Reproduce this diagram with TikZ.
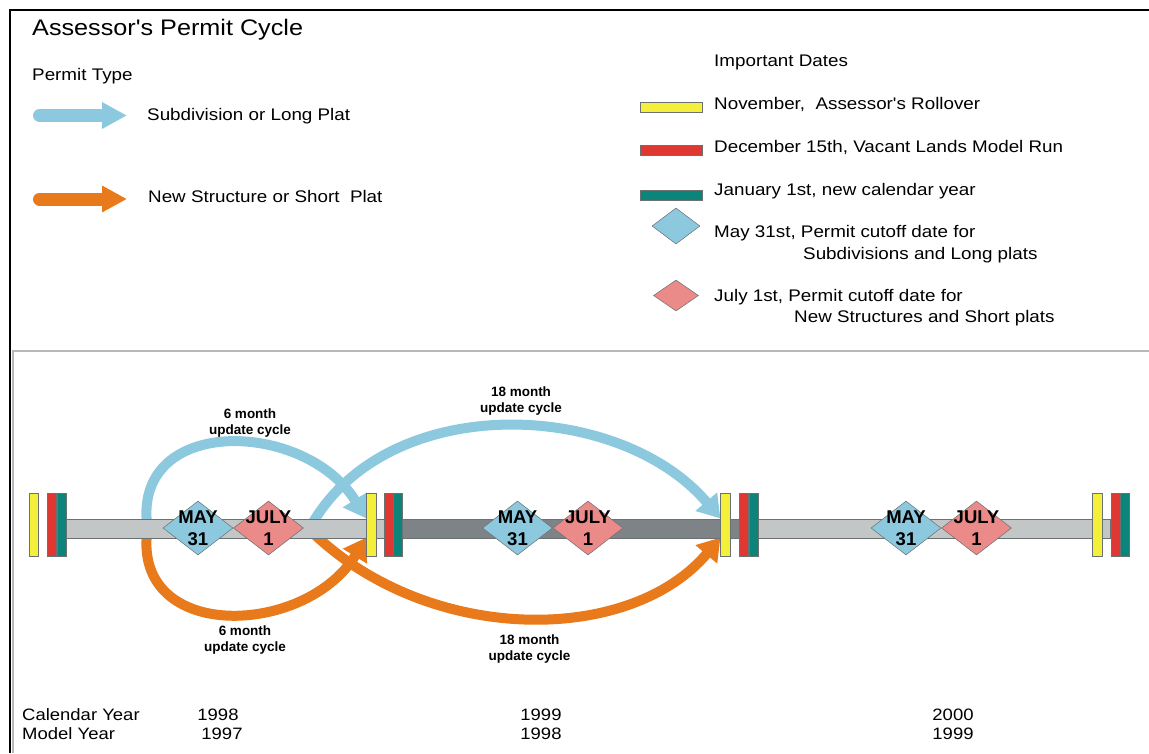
\documentclass[tikz,border=0pt]{standalone}
\usepackage{fontspec}
\setmainfont{Liberation Sans}
\newfontfamily\widesans{Liberation Sans}[FakeStretch=1.12]
\usepackage{xcolor}
\usepackage{tikz}
\usetikzlibrary{positioning, shapes.geometric, arrows.meta, backgrounds}

\definecolor{subblue}{HTML}{8CC8DE}
\definecolor{strorange}{HTML}{E97A1C}
\definecolor{rollyellow}{HTML}{F3EF3A}
\definecolor{modelred}{HTML}{DF3832}
\definecolor{newteal}{HTML}{0B857C}
\definecolor{julypink}{HTML}{EA8A89}
\definecolor{barlight}{HTML}{C2C6C6}
\definecolor{bardark}{HTML}{7D8386}
\definecolor{baredge}{HTML}{6B7070}

\begin{document}
\begin{tikzpicture}[x=1pt, y=-1pt,
    headtxt/.style={font=\widesans\fontsize{22.5}{27}\selectfont, anchor=base west, inner sep=0pt},
    legtxt/.style={font=\widesans\fontsize{16.8}{20}\selectfont, anchor=base west, inner sep=0pt},
    yeartxt/.style={font=\widesans\fontsize{16.5}{20}\selectfont, anchor=base, inner sep=0pt},
    cyctxt/.style={font=\bfseries\fontsize{13.5}{16.5}\selectfont, align=center, inner sep=0pt},
    daytxt/.style={font=\bfseries\fontsize{18.5}{21.5}\selectfont, align=center, inner sep=0pt},
    swatch/.style={draw=baredge, line width=0.6pt, minimum width=62pt, minimum height=10pt, inner sep=0pt},
    yelbar/.style={draw=baredge, line width=0.6pt, fill=rollyellow, minimum width=9.5pt, minimum height=63pt, inner sep=0pt},
    redbar/.style={yelbar, fill=modelred, minimum width=9pt},
    tealbar/.style={yelbar, fill=newteal, minimum width=9pt},
    maydia/.style={diamond, draw=baredge, line width=0.5pt, fill=subblue, minimum width=70pt, minimum height=54pt, inner sep=0pt},
    julydia/.style={maydia, fill=julypink},
    cycarrow/.style={line width=10pt, -{Triangle[width=27pt, length=22pt]}},
    legarrow/.style={line width=13pt, line cap=round, -{Triangle[width=25pt, length=25pt]}}]
    \useasboundingbox (0,0) rectangle (1149,753);

    % Frame
    \draw[line width=2.5pt] (9,10) -- (1149,10);
    \draw[line width=2.5pt] (10,9) -- (10,753);
    \draw[gray!55, line width=2pt] (1149,351) -- (12.5,351) -- (12.5,753);

    % Permit type legend
    \node[headtxt] (heading) at (32,35) {Assessor's Permit Cycle};
    \node[legtxt] (ptype) at (32,80.7) {Permit Type};
    \coordinate (subtail) at (39.5,115.5);
    \coordinate (subtip) at (127,115.5);
    \coordinate (strtail) at (39.5,199);
    \coordinate (strtip) at (127,199);
    \draw[legarrow, subblue] (subtail) -- (subtip);
    \draw[legarrow, strorange] (strtail) -- (strtip);
    \node[legtxt] (subtxt) at (147,120) {Subdivision or Long Plat};
    \node[legtxt] (strtxt) at (148,202.7) {New Structure or Short\ \ Plat};

    % Important dates legend
    \node[legtxt] (impdates) at (714,66.7) {Important Dates};
    \node[swatch, fill=rollyellow] (swyel) at (671,107) {};
    \node[swatch, fill=modelred] (swred) at (671,150.5) {};
    \node[swatch, fill=newteal] (swteal) at (671,195) {};
    \node[legtxt] (novtxt) at (714,109.3) {November,\ \ Assessor's Rollover};
    \node[legtxt] (dectxt) at (714,152.3) {December 15th, Vacant Lands Model Run};
    \node[legtxt] (jantxt) at (714,195) {January 1st, new calendar year};
    \node[maydia, minimum width=48pt, minimum height=36pt] (legmay) at (676,226) {};
    \node[julydia, minimum width=45pt, minimum height=31pt] (legjuly) at (676,295.5) {};
    \node[legtxt] (maytxt) at (714,237.7) {May 31st, Permit cutoff date for};
    \node[legtxt] (maytxtb) at (803,259) {Subdivisions and Long plats};
    \node[legtxt] (julytxt) at (714,301.7) {July 1st, Permit cutoff date for};
    \node[legtxt] (julytxtb) at (794,322.7) {New Structures and Short plats};

    % Timeline
    \node[draw=baredge, line width=0.8pt, fill=barlight, minimum width=1046pt, minimum height=19pt, inner sep=0pt] (bar) at (587,528.5) {};
    \node[draw=baredge, line width=0.8pt, fill=bardark, minimum width=337pt, minimum height=19pt, inner sep=0pt] (bardk) at (570.5,528.5) {};

    \node[yelbar] (yel1) at (34,524.5) {};
    \node[redbar, right=8pt of yel1] (red1) {};
    \node[tealbar, right=0pt of red1] (teal1) {};
    \node[yelbar] (yel2) at (371.5,524.5) {};
    \node[redbar, right=7pt of yel2] (red2) {};
    \node[tealbar, right=0pt of red2] (teal2) {};
    \node[yelbar] (yel3) at (725.5,524.5) {};
    \node[redbar, right=8.5pt of yel3] (red3) {};
    \node[tealbar, right=0pt of red3] (teal3) {};
    \node[yelbar] (yel4) at (1097.5,524.5) {};
    \node[redbar, right=8pt of yel4] (red4) {};
    \node[tealbar, right=0pt of red4] (teal4) {};

    \node[maydia, label={[daytxt]center:MAY\\31}] (may1) at (198,528) {};
    \node[julydia, right=0pt of may1, label={[daytxt]center:JULY\\1}] (july1) {};
    \node[maydia, label={[daytxt]center:MAY\\31}] (may2) at (517.5,528) {};
    \node[julydia, right=0pt of may2, label={[daytxt]center:JULY\\1}] (july2) {};
    \node[maydia, label={[daytxt]center:MAY\\31}] (may3) at (906,528) {};
    \node[julydia, right=0pt of may3, label={[daytxt]center:JULY\\1}] (july3) {};

    % Update cycles
    \coordinate (sub6) at (147,524);
    \coordinate (str6) at (147,533);
    \coordinate (sub18) at (312,524);
    \coordinate (str18) at (313,533);
    \begin{scope}[on background layer]
        \draw[cycarrow, subblue] (sub6) .. controls (135,415) and (305,420) .. ([yshift=6pt]yel2.west);
        \draw[cycarrow, strorange] (str6) .. controls (135,642) and (305,637) .. ([yshift=-13pt]yel2.west);
        \draw[cycarrow, subblue] (sub18) .. controls (390,390) and (620,400) .. ([yshift=6pt]yel3.west);
        \draw[cycarrow, strorange] (str18) .. controls (430,645) and (630,645) .. ([yshift=-13pt]yel3.west);
    \end{scope}
    \node[cyctxt] (cyc6sub) at (250,423) {6 month\\update cycle};
    \node[cyctxt] (cyc6str) at (245,640) {6 month\\update cycle};
    \node[cyctxt] (cyc18sub) at (521,401) {18 month\\update cycle};
    \node[cyctxt] (cyc18str) at (529.5,649) {18 month\\update cycle};

    % Years
    \node[legtxt, font=\widesans\fontsize{16.5}{20}\selectfont] (calyr) at (22,720) {Calendar Year};
    \node[legtxt, font=\widesans\fontsize{16.5}{20}\selectfont] (modyr) at (22,739) {Model Year};
    \node[yeartxt] (cal98) at (218,720) {1998};
    \node[yeartxt] (mod97) at (222,739) {1997};
    \node[yeartxt] (cal99) at (541,720) {1999};
    \node[yeartxt] (mod98) at (541,739) {1998};
    \node[yeartxt] (cal00) at (953,720) {2000};
    \node[yeartxt] (mod99) at (953,739) {1999};
\end{tikzpicture}
\end{document}
